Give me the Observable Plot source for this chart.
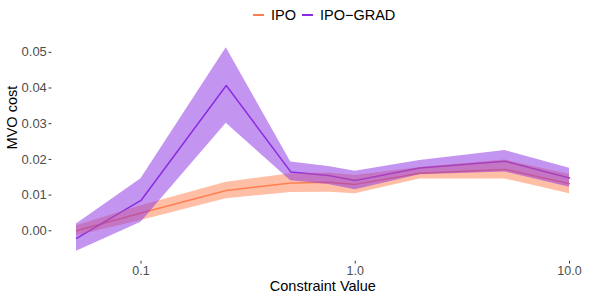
<!DOCTYPE html>
<html>
<head>
<meta charset="utf-8">
<script src="https://cdn.jsdelivr.net/npm/d3@7"></script>
<script src="https://cdn.jsdelivr.net/npm/@observablehq/plot@0.6"></script>
<style>
  html, body { margin: 0; padding: 0; background: #fff; }
  body { width: 598px; height: 299px; overflow: hidden; font-family: "Liberation Sans", Arial, sans-serif; }
  #legend { position: relative; height: 30px; width: 598px; }
  .item { position: absolute; top: 7px; display: flex; align-items: center; font-size: 14.5px; color: #000; }
  .sw { width: 11px; height: 2px; margin-right: 7px; }
  svg { display: block; }
</style>
</head>
<body>
<div id="legend"></div>
<div id="chart"></div>
<script>
const constraintValues = [0.05, 0.1, 0.25, 0.5, 0.75, 1, 2, 5, 10];
const seriesNames = ["IPO", "IPO\u2212GRAD"];
const seriesColors = ["#FF7F50", "#8A2BE2"];

const ipoMean = [0.0000, 0.0050, 0.0113, 0.0134, 0.0136, 0.0130, 0.0161, 0.0172, 0.0132];
const ipoLow  = [-0.0014, 0.0029, 0.0090, 0.0107, 0.0108, 0.0104, 0.0145, 0.0145, 0.0104];
const ipoHigh = [0.0014, 0.0070, 0.0136, 0.0160, 0.0162, 0.0155, 0.0177, 0.0198, 0.0158];

const gradMean = [-0.0021, 0.0085, 0.0407, 0.0165, 0.0155, 0.0141, 0.0176, 0.0195, 0.0148];
const gradLow  = [-0.0057, 0.0024, 0.0301, 0.0140, 0.0130, 0.0115, 0.0157, 0.0165, 0.0122];
const gradHigh = [0.0019, 0.0146, 0.0513, 0.0193, 0.0180, 0.0167, 0.0197, 0.0225, 0.0175];

const yTicks = [0, 0.01, 0.02, 0.03, 0.04, 0.05];
const xTicks = [0.1, 1, 10];

const rows = [];
constraintValues.forEach((c, i) => {
  rows.push({series: seriesNames[0], x: c, mean: ipoMean[i], lo: ipoLow[i], hi: ipoHigh[i]});
});
constraintValues.forEach((c, i) => {
  rows.push({series: seriesNames[1], x: c, mean: gradMean[i], lo: gradLow[i], hi: gradHigh[i]});
});

const font = "Liberation Sans, Arial, sans-serif";

const plot = Plot.plot({
  width: 598,
  height: 269,
  marginLeft: 51.3,
  marginRight: 4.6,
  marginTop: 7,
  marginBottom: 38.2,
  style: {fontFamily: font, background: "#fff"},
  x: {type: "log", domain: [0.05, 10], insetLeft: 24.7, insetRight: 24.4},
  y: {domain: [-0.00855, 0.05415]},
  color: {domain: seriesNames, range: seriesColors},
  marks: [
    Plot.line(rows, {x: "x", y: "mean", z: "series", stroke: "series", strokeWidth: 1.5}),
    Plot.areaY(rows, {x: "x", y1: "lo", y2: "hi", z: "series", fill: "series", fillOpacity: 0.5}),
    Plot.axisY({ticks: yTicks, tickFormat: d3.format(".2f"), tickSize: 2.75, tickPadding: 2.2, fontSize: 13, stroke: "#333", fill: "#4D4D4D", label: null}),
    Plot.axisX({ticks: xTicks, tickFormat: d => d.toFixed(1), tickSize: 2.75, tickPadding: 2.2, fontSize: 12.5, stroke: "#333", fill: "#4D4D4D", label: null}),
    Plot.text(["Constraint Value"], {frameAnchor: "bottom", dy: 29.5, fontSize: 14.5, fill: "#000"}),
    Plot.text(["MVO cost"], {frameAnchor: "left", dx: -39, rotate: -90, fontSize: 14.5, fill: "#000"})
  ]
});
document.getElementById("chart").appendChild(plot);

const legend = document.getElementById("legend");
const lefts = [253, 302];
seriesNames.forEach((name, i) => {
  const item = document.createElement("div");
  item.className = "item";
  item.style.left = lefts[i] + "px";
  const sw = document.createElement("div");
  sw.className = "sw";
  sw.style.background = seriesColors[i];
  const t = document.createElement("span");
  t.textContent = name;
  item.appendChild(sw);
  item.appendChild(t);
  legend.appendChild(item);
});
</script>
</body>
</html>
